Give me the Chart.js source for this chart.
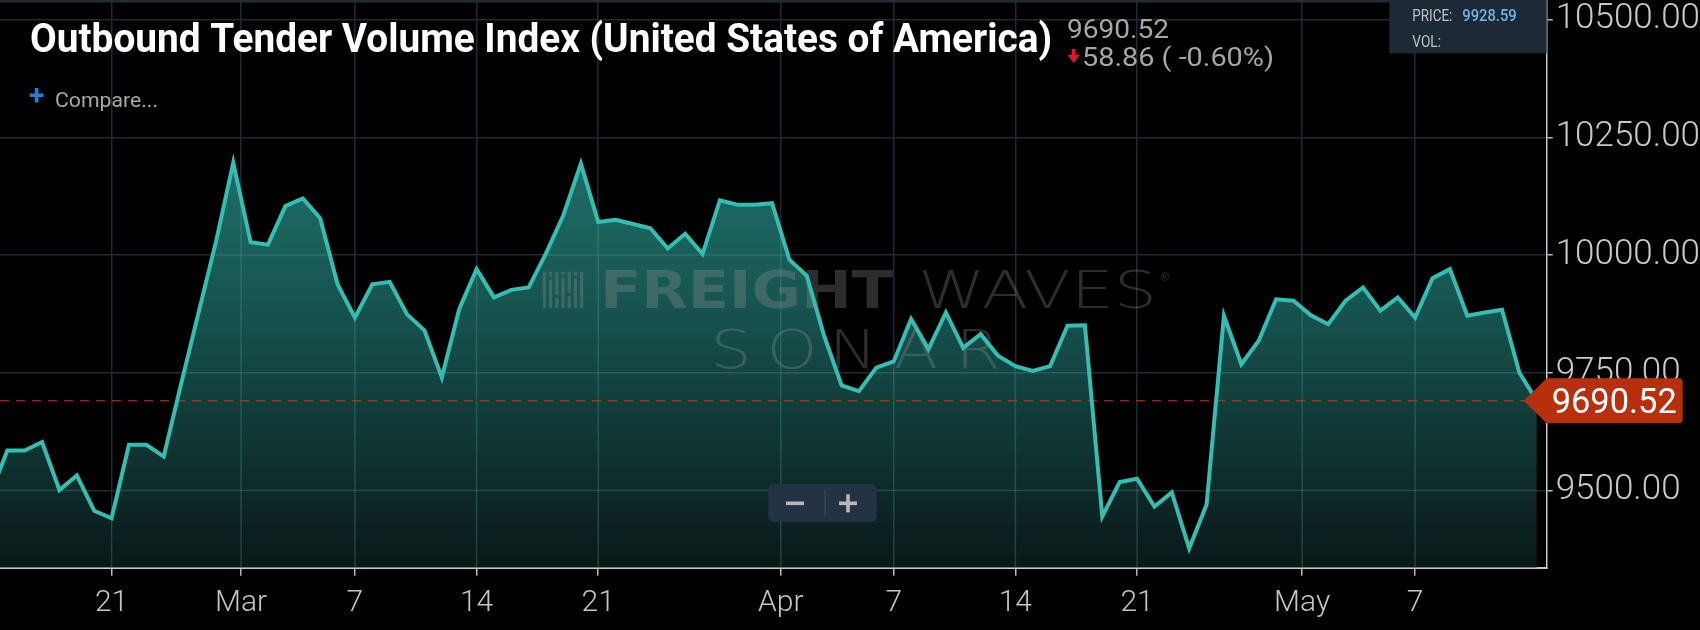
<!DOCTYPE html>
<html>
<head>
<meta charset="utf-8">
<script src="https://cdn.jsdelivr.net/npm/chart.js@4.4.1/dist/chart.umd.min.js"></script>
<style>
  html, body { margin: 0; padding: 0; background: #000; overflow: hidden; }
  #wrap { width: 1700px; height: 630px; position: relative; }
</style>
</head>
<body>
<div id="wrap"><canvas id="chart" width="1700" height="630"></canvas></div>
<script>
const title = "Outbound Tender Volume Index (United States of America)";
const lastPrice = 9690.52;
const changeText = "58.86 ( -0.60%)";
const hoverPrice = "9928.59";

// daily index values, one per day from Feb 14 to May 14
const values = [
    9489, 9585, 9585, 9603, 9501, 9532, 9457, 9441, 9597, 9597,
    9572, 9726, 9877, 10027, 10196, 10027, 10022, 10104, 10120, 10078,
    9938, 9867, 9938, 9943, 9874, 9840, 9740, 9885, 9970, 9910,
    9926, 9931, 10004, 10085, 10194, 10070, 10075, 10066, 10057, 10014,
    10045, 10002, 10116, 10107, 10107, 10110, 9990, 9956, 9828, 9723,
    9711, 9761, 9774, 9864, 9800, 9878, 9803, 9832, 9786, 9764,
    9754, 9764, 9850, 9851, 9445, 9518, 9525, 9466, 9496, 9377,
    9470, 9871, 9768, 9818, 9906, 9903, 9872, 9853, 9903, 9931,
    9882, 9910, 9867, 9951, 9970, 9871, 9878, 9884, 9750, 9690.52
];

// x ticks, in day positions (0 = Feb 15)
const tickPositions = [6, 13.45, 20, 27, 34, 44.5, 51, 58, 65, 74.5, 81];
const tickLabels = ["21", "Mar", "7", "14", "21", "Apr", "7", "14", "21", "May", "7"];
const yTicks = [9500, 9750, 10000, 10250, 10500];

const points = values.map((v, i) => ({ x: i - 1, y: v }));

function fitText(ctx, text, x, y, width) {
    const w = ctx.measureText(text).width;
    ctx.save();
    ctx.translate(x, y);
    ctx.scale(width / w, 1);
    ctx.fillText(text, 0, 0);
    ctx.restore();
}

function roundBox(ctx, x, y, w, h, r) {
    ctx.beginPath();
    ctx.moveTo(x + r, y);
    ctx.arcTo(x + w, y, x + w, y + h, r);
    ctx.arcTo(x + w, y + h, x, y + h, r);
    ctx.arcTo(x, y + h, x, y, r);
    ctx.arcTo(x, y, x + w, y, r);
    ctx.closePath();
}

const overlay = {
    id: "overlay",
    beforeDatasetsDraw(chart) {
        const { ctx, chartArea: a, scales } = chart;
        const pts = chart.getDatasetMeta(0).data;

        // grid lines showing through the area fill
        ctx.save();
        ctx.beginPath();
        ctx.rect(a.left, a.top, a.right - a.left, a.bottom - a.top);
        ctx.clip();
        ctx.beginPath();
        ctx.moveTo(pts[0].x, a.bottom);
        pts.forEach((p) => ctx.lineTo(p.x, p.y));
        ctx.lineTo(pts[pts.length - 1].x, a.bottom);
        ctx.closePath();
        ctx.clip();
        ctx.strokeStyle = "rgba(90,165,165,0.28)";
        ctx.lineWidth = 1.5;
        tickPositions.forEach((v) => {
            const px = scales.x.getPixelForValue(v);
            ctx.beginPath();
            ctx.moveTo(px, a.top);
            ctx.lineTo(px, a.bottom);
            ctx.stroke();
        });
        yTicks.forEach((v) => {
            const py = scales.y.getPixelForValue(v);
            ctx.beginPath();
            ctx.moveTo(a.left, py);
            ctx.lineTo(a.right, py);
            ctx.stroke();
        });
        ctx.restore();

        // last price dashed line
        const py = scales.y.getPixelForValue(lastPrice);
        ctx.save();
        ctx.setLineDash([9, 7]);
        ctx.strokeStyle = "rgba(205,55,25,0.7)";
        ctx.lineWidth = 1.5;
        ctx.beginPath();
        ctx.moveTo(a.left, py);
        ctx.lineTo(a.right - 20, py);
        ctx.stroke();
        ctx.restore();

        // watermark
        ctx.save();
        ctx.fillStyle = "rgba(150,150,150,0.3)";
        const bars = [[0, 0], [1, 8], [2, 26], [3, 6], [4, 24], [5, 7], [6, 0]];
        bars.forEach(([k, gap]) => {
            const bx = 542.7 + k * 6.2;
            if (gap === 0) {
                ctx.fillRect(bx, 271.7, 3.4, 36.6);
            } else {
                ctx.fillRect(bx, 271.7, 3.4, gap - 3);
                ctx.fillRect(bx, 271.7 + gap, 3.4, 36.6 - gap);
            }
        });
        ctx.textBaseline = "alphabetic";
        ctx.textAlign = "left";
        ctx.font = 'bold 52px "DejaVu Sans"';
        fitText(ctx, "FREIGHT", 600, 308, 293);
        ctx.font = '200 52px "DejaVu Sans"';
        fitText(ctx, "WAVES", 918, 308, 239);
        ctx.font = '12px "DejaVu Sans"';
        ctx.fillText("®", 1159, 281);
        ctx.font = '200 54px "DejaVu Sans"';
        ctx.textAlign = "center";
        const sonar = "SONAR";
        const centers = [731, 792, 853, 916, 978];
        for (let k = 0; k < sonar.length; k++) {
            ctx.save();
            ctx.translate(centers[k], 368);
            ctx.scale(1.2, 1);
            ctx.fillText(sonar[k], 0, 0);
            ctx.restore();
        }
        ctx.restore();
    },
    afterDraw(chart) {
        const { ctx, chartArea: a, scales } = chart;
        ctx.save();
        ctx.textBaseline = "alphabetic";
        ctx.textAlign = "left";

        // top border
        ctx.fillStyle = "#222c36";
        ctx.fillRect(0, 0, a.right, 2.5);

        // title
        ctx.fillStyle = "#ffffff";
        ctx.font = 'bold 40px Roboto';
        fitText(ctx, title, 30, 52, 1022);

        // last value and change
        ctx.fillStyle = "#a6a6a6";
        ctx.font = '26px Roboto';
        fitText(ctx, lastPrice.toFixed(2), 1067, 38, 102);
        fitText(ctx, changeText, 1082, 66, 192);
        ctx.fillStyle = "#e3122d";
        ctx.fillRect(1071.8, 49, 3.6, 7);
        ctx.beginPath();
        ctx.moveTo(1067.5, 55);
        ctx.lineTo(1079.7, 55);
        ctx.lineTo(1073.6, 63);
        ctx.closePath();
        ctx.fill();

        // compare
        ctx.fillStyle = "#2a7ad8";
        ctx.font = 'bold 28px Roboto';
        ctx.textAlign = "center";
        ctx.textBaseline = "middle";
        ctx.fillText("+", 36.6, 98);
        ctx.textAlign = "left";
        ctx.textBaseline = "alphabetic";
        ctx.fillStyle = "#a8a8a8";
        ctx.font = '20px Roboto';
        fitText(ctx, "Compare...", 55, 106.5, 103);

        // hover box
        ctx.fillStyle = "#1d2935";
        ctx.fillRect(1389.3, 1.7, a.right - 1389.3, 51.6);
        ctx.fillStyle = "#c0c4c8";
        ctx.font = '16px Roboto';
        fitText(ctx, "PRICE:", 1412.3, 20.7, 40);
        fitText(ctx, "VOL:", 1412.3, 46.7, 28.7);
        ctx.fillStyle = "#6cb6e8";
        ctx.font = '500 16px Roboto';
        fitText(ctx, hoverPrice, 1462.3, 20.7, 54.4);

        // zoom buttons
        ctx.fillStyle = "#243343";
        roundBox(ctx, 768.3, 484, 108.4, 37.7, 5);
        ctx.fill();
        ctx.fillStyle = "#3a4a5a";
        ctx.fillRect(824.5, 490, 1.2, 26);
        ctx.fillStyle = "#b8b8b8";
        ctx.fillRect(786, 501.5, 18, 3.6);
        ctx.fillRect(839, 501.5, 18, 3.6);
        ctx.fillRect(846.2, 494.3, 3.6, 18);

        // last price tag
        const py = scales.y.getPixelForValue(lastPrice);
        const r = a.right;
        ctx.fillStyle = "#b82f0e";
        ctx.beginPath();
        ctx.moveTo(r - 23, py);
        ctx.lineTo(r, py - 22.5);
        ctx.lineTo(r + 132, py - 22.5);
        ctx.arcTo(r + 136, py - 22.5, r + 136, py - 18.5, 4);
        ctx.lineTo(r + 136, py + 18.5);
        ctx.arcTo(r + 136, py + 22.5, r + 132, py + 22.5, 4);
        ctx.lineTo(r, py + 22.5);
        ctx.closePath();
        ctx.fill();
        ctx.fillStyle = "#ffffff";
        ctx.font = '35px Roboto';
        fitText(ctx, lastPrice.toFixed(2), r + 5, py + 12.5, 125);
        ctx.restore();
    },
};

new Chart(document.getElementById("chart"), {
    type: "line",
    data: {
        datasets: [
            {
                data: points,
                borderColor: "#34beb2",
                borderWidth: 4,
                pointRadius: 0,
                tension: 0,
                fill: "start",
                backgroundColor: (context) => {
                    const { ctx, chartArea } = context.chart;
                    if (!chartArea) return "rgba(0,0,0,0)";
                    const g = ctx.createLinearGradient(0, chartArea.top, 0, chartArea.bottom);
                    g.addColorStop(0, "#247e78");
                    g.addColorStop(0.3, "#1e6d68");
                    g.addColorStop(0.53, "#175550");
                    g.addColorStop(0.79, "#0f3432");
                    g.addColorStop(1, "#091818");
                    return g;
                },
            },
        ],
    },
    options: {
        responsive: false,
        animation: false,
        devicePixelRatio: 1,
        layout: { padding: 0 },
        plugins: {
            legend: { display: false },
            tooltip: { enabled: false },
            filler: { drawTime: "beforeDatasetsDraw" },
        },
        scales: {
            x: {
                type: "linear",
                min: -0.42,
                max: 88.57,
                afterBuildTicks: (scale) => {
                    scale.ticks = tickPositions.map((v) => ({ value: v }));
                },
                afterFit: (scale) => {
                    scale.height = 62.3;
                    scale.paddingLeft = 0;
                    scale.paddingRight = 0;
                },
                ticks: {
                    autoSkip: false,
                    maxRotation: 0,
                    padding: 10,
                    color: "#c4c4c4",
                    font: { family: "Roboto", size: 30, weight: "300" },
                    callback: (v, i) => tickLabels[i],
                },
                grid: {
                    color: "#1e2a34",
                    lineWidth: 1.5,
                    tickLength: 8,
                    tickColor: "#b8b8b8",
                },
                border: { color: "#c8c8c8", width: 2 },
            },
            y: {
                position: "right",
                min: 9336,
                max: 10541.6,
                afterBuildTicks: (scale) => {
                    scale.ticks = yTicks.map((v) => ({ value: v }));
                },
                afterFit: (scale) => {
                    scale.width = 153.3;
                    scale.paddingTop = 0;
                    scale.paddingBottom = 0;
                },
                ticks: {
                    padding: 3,
                    color: "#c8c8c8",
                    font: { family: "Roboto", size: 35, weight: "300" },
                    callback: (v) => v.toFixed(2),
                },
                grid: {
                    color: "#1e2a34",
                    lineWidth: 1.5,
                    tickLength: 6,
                    tickColor: "#b8b8b8",
                },
                border: { color: "#c8c8c8", width: 1.5 },
            },
        },
    },
    plugins: [overlay],
});
</script>
</body>
</html>
